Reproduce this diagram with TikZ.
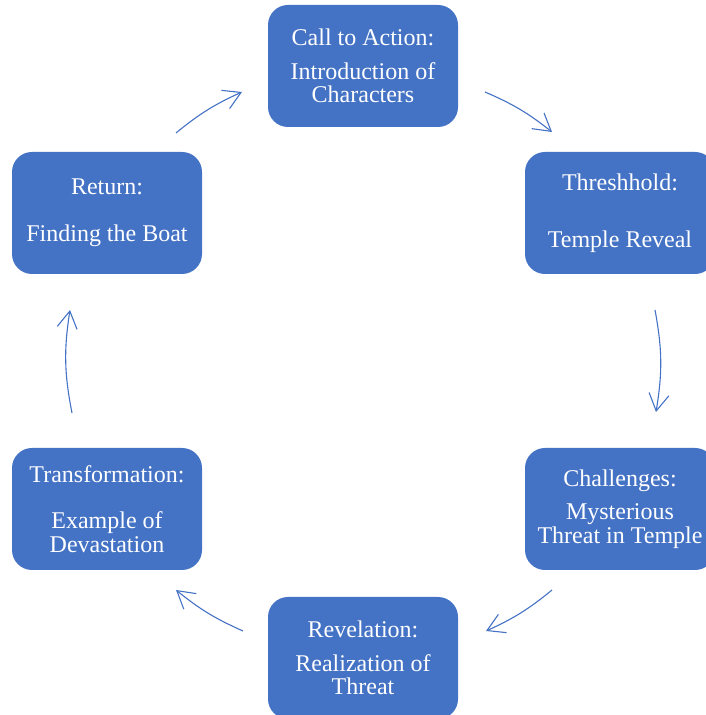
\documentclass[tikz,border=0pt]{standalone}
\usepackage{fontspec}
\setmainfont{Liberation Serif}
\usetikzlibrary{arrows.meta}
\definecolor{boxblue}{HTML}{4472C4}
\tikzset{
  stagebox/.style={fill=boxblue, draw=none, rounded corners=20pt, minimum width=190pt, minimum height=122pt,
    text=white, align=center, inner sep=0pt, font=\fontsize{24}{23.3}\selectfont},
  flow/.style={draw=boxblue, line width=1.1pt, -{Straight Barb[length=17pt,width=20pt,line width=1.1pt]}}
}
\begin{document}
\begin{tikzpicture}[x=1pt,y=1pt]
\path[use as bounding box] (0,0) rectangle (706,715);
\clip (0,0) rectangle (706,715);
\node[stagebox] (top) at (363,649) {Call to Action:\\[10pt]Introduction of\\Characters};
\node[stagebox] (thr) at (620,502) {Threshhold:\\[33.3pt]Temple Reveal};
\node[stagebox] (cha) at (620,206) {Challenges:\\[10pt]Mysterious\\Threat in Temple};
\node[stagebox] (rev) at (363,57) {Revelation:\\[10pt]Realization of\\Threat};
\node[stagebox] (tra) at (107,206) {Transformation:\\[23.3pt]Example of\\Devastation};
\node[stagebox] (ret) at (107,502) {Return:\\[23.3pt]Finding the Boat};
\coordinate (a1s) at (485,623); \coordinate (a1e) at (552,583);
\coordinate (a2s) at (655,405); \coordinate (a2e) at (656,303);
\coordinate (a3s) at (552,125); \coordinate (a3e) at (486,84);
\coordinate (a4s) at (243,84);  \coordinate (a4e) at (176,125);
\coordinate (a5s) at (72,302);  \coordinate (a5e) at (70,405);
\coordinate (a6s) at (176,582); \coordinate (a6e) at (242,623);
\draw[flow] (a1s) to[bend left=7.5] (a1e);
\draw[flow] (a2s) to[bend left=10] (a2e);
\draw[flow] (a3s) to[bend left=7.5] (a3e);
\draw[flow] (a4s) to[bend left=7.5] (a4e);
\draw[flow] (a5s) to[bend left=10] (a5e);
\draw[flow] (a6s) to[bend left=7.5] (a6e);
\end{tikzpicture}
\end{document}
